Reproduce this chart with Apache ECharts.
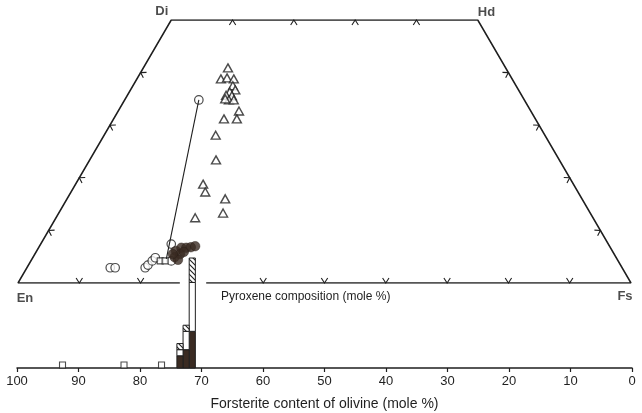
<!DOCTYPE html>
<html>
<head>
<meta charset="utf-8">
<script src="https://cdn.jsdelivr.net/npm/echarts@6/dist/echarts.min.js"></script>
<style>
  html, body { margin: 0; padding: 0; background: #ffffff; }
  #chart { width: 642px; height: 413px; }
</style>
</head>
<body>
<div id="chart"></div>
<script>
// ---------- DATA (pyroxene compositions as [Fs, Wo] mole %) ----------
const pyxTriangles = [
  [13.8, 40.9], [13.7, 38.8], [14.6, 39.0], [15.8, 38.8], [16.3, 37.5],
  [17.1, 36.7], [16.4, 36.3], [16.1, 35.7], [17.1, 35.6], [17.0, 34.8],
  [16.3, 35.0], [17.8, 34.8], [19.7, 32.7], [18.0, 31.2], [20.1, 31.2],
  [18.2, 28.1], [20.6, 23.4], [20.8, 18.8], [21.9, 17.3], [25.8, 16.0],
  [22.7, 12.4], [26.8, 13.3]
];
const pyxOpenCircles = [
  [12.1, 34.8], [13.6, 2.9], [14.4, 2.9], [19.3, 2.9], [19.5, 3.4],
  [19.8, 4.2], [20.0, 4.8], [21.3, 7.4], [22.9, 4.2]
];
const pyxOpenSquares = [[21.1, 4.2], [21.9, 4.2]];
const pyxFilledCircles = [
  [22.7, 6.1], [23.3, 6.7], [24.1, 6.7], [24.8, 6.8], [25.4, 7.0],
  [23.1, 4.9], [23.7, 5.5], [23.9, 4.4], [24.1, 5.9], [22.5, 5.5]
];
const tieLine = [[12.1, 34.8], [21.9, 4.6]];

// quadrilateral corners and tick marks
const cornerNames = ['En', 'Di', 'Hd', 'Fs'];
const cornerComps = [[0, 0], [0, 50], [50, 50], [100, 0]];
const baseTicksFs = [10, 20, 40, 50, 60, 70, 80, 90];
const topTicksFs = [10, 20, 30, 40];
const sideTicksWo = [10, 20, 30, 40];
const baseGap = [26.4, 30.7]; // Fs range where the base line is interrupted

// ---------- DATA (olivine, Fo mole %) ----------
const olivineBinLow = [71, 72, 73];
const olivineFilled = [6, 3, 2];
const olivineOpen = [8, 3, 1];
const olivineHatched = [4, 1, 1];
const olivineSingles = [92.6, 82.6, 76.5];
const olivineTicks = [100, 90, 80, 70, 60, 50, 40, 30, 20, 10, 0];

// ---------- helpers ----------
const toXY = (c) => [c[0] + c[1] / 2, c[1]];
const INK = '#1f1f1f';
const DARK = '#3a2b22';
const FONT = '"Liberation Sans", Arial, sans-serif';

function hatchPattern() {
  const c = document.createElement('canvas');
  c.width = 5; c.height = 5;
  const g = c.getContext('2d');
  g.fillStyle = '#ffffff'; g.fillRect(0, 0, 5, 5);
  g.strokeStyle = '#222'; g.lineWidth = 1.1;
  g.beginPath();
  g.moveTo(-1, -1); g.lineTo(6, 6);
  g.moveTo(-1, 4); g.lineTo(1, 6);
  g.moveTo(4, -1); g.lineTo(6, 1);
  g.stroke();
  return { image: c, repeat: 'repeat' };
}
const HATCH = hatchPattern();

// tick mark data: [x, y, edgeIndex]
const tickData = [];
baseTicksFs.forEach(f => tickData.push([f, 0, 0]));
topTicksFs.forEach(f => { const p = toXY([f, 50]); tickData.push([p[0], p[1], 1]); });
sideTicksWo.forEach(w => { const p = toXY([0, w]); tickData.push([p[0], p[1], 2]); });
sideTicksWo.forEach(w => { const p = toXY([100 - w, w]); tickData.push([p[0], p[1], 3]); });
const s3 = Math.sqrt(3) / 2;
const normals = [[0, 1], [0, -1], [-s3, -0.5], [s3, -0.5]];

// histogram rect data: [lo, hi, base, top, kind]
const histData = [];
olivineBinLow.forEach((lo, i) => {
  const f = olivineFilled[i], o = olivineOpen[i], h = olivineHatched[i];
  histData.push([lo, lo + 1, 0, f, 0]);
  histData.push([lo, lo + 1, f, f + o, 1]);
  histData.push([lo, lo + 1, f + o, f + o + h, 2]);
});

const outline = [
  toXY([baseGap[0], 0]), toXY(cornerComps[0]), toXY(cornerComps[1]),
  toXY(cornerComps[2]), toXY(cornerComps[3]), toXY([baseGap[1], 0])
];

const cornerLabel = {
  En: { position: 'bottom', offset: [7, 4] },
  Di: { position: 'left', offset: [2, -9] },
  Hd: { position: 'right', offset: [-5, -8] },
  Fs: { position: 'bottom', offset: [-6, 2] }
};

const chart = echarts.init(document.getElementById('chart'), null, { renderer: 'canvas' });
chart.setOption({
  animation: false,
  backgroundColor: '#ffffff',
  textStyle: { fontFamily: FONT },
  grid: [
    { left: 18, right: 11, top: 20, bottom: 130 },
    { left: 17, right: 10, top: 258, bottom: 45 }
  ],
  xAxis: [
    { gridIndex: 0, type: 'value', min: 0, max: 100, show: false },
    {
      gridIndex: 1, type: 'value', min: 0, max: 100, interval: 10, inverse: true,
      axisLine: { show: true, onZero: false, lineStyle: { color: INK, width: 1.5 } },
      axisTick: { show: true, length: 4, lineStyle: { color: INK, width: 1.2 } },
      axisLabel: { color: INK, fontSize: 13, margin: 7,
        formatter: v => olivineTicks.includes(v) ? String(v) : '' },
      splitLine: { show: false },
      name: 'Forsterite content of olivine (mole %)',
      nameLocation: 'middle', nameGap: 29,
      nameTextStyle: { color: INK, fontSize: 14 }
    }
  ],
  yAxis: [
    { gridIndex: 0, type: 'value', min: 0, max: 50, show: false },
    { gridIndex: 1, type: 'value', min: 0, max: 18, show: false }
  ],
  graphic: [
    { type: 'text', left: 221, top: 291,
      style: { text: 'Pyroxene composition (mole %)', fill: INK,
        font: '12px ' + FONT } }
  ],
  series: [
    {
      name: 'outline', type: 'line', xAxisIndex: 0, yAxisIndex: 0,
      data: outline, symbol: 'none', silent: true,
      lineStyle: { color: INK, width: 1.5 }
    },
    {
      name: 'tie', type: 'line', xAxisIndex: 0, yAxisIndex: 0,
      data: tieLine.map(toXY), symbol: 'none', silent: true,
      lineStyle: { color: INK, width: 1.1 }
    },
    {
      name: 'ticks', type: 'custom', xAxisIndex: 0, yAxisIndex: 0, silent: true,
      data: tickData,
      renderItem: (params, api) => {
        const p = api.coord([api.value(0), api.value(1)]);
        const n = normals[api.value(2)];
        const t = [-n[1], n[0]];
        const h = 5, w = 3.2;
        return {
          type: 'polyline',
          shape: { points: [
            [p[0] - n[0] * h + t[0] * w, p[1] - n[1] * h + t[1] * w],
            [p[0], p[1]],
            [p[0] - n[0] * h - t[0] * w, p[1] - n[1] * h - t[1] * w]
          ] },
          style: { stroke: INK, lineWidth: 1.1, fill: null }
        };
      }
    },
    {
      name: 'triangles', type: 'scatter', xAxisIndex: 0, yAxisIndex: 0,
      data: pyxTriangles.map(toXY), symbol: 'triangle', symbolSize: [9, 8],
      itemStyle: { color: '#ffffff', borderColor: INK, borderWidth: 1.4 }
    },
    {
      name: 'openCircles', type: 'scatter', xAxisIndex: 0, yAxisIndex: 0,
      data: pyxOpenCircles.map(toXY), symbol: 'circle', symbolSize: 8.5,
      itemStyle: { color: '#ffffff', borderColor: INK, borderWidth: 1.2 }
    },
    {
      name: 'openSquares', type: 'scatter', xAxisIndex: 0, yAxisIndex: 0,
      data: pyxOpenSquares.map(toXY), symbol: 'rect', symbolSize: 6,
      itemStyle: { color: '#ffffff', borderColor: INK, borderWidth: 1.2 }
    },
    {
      name: 'filledCircles', type: 'scatter', xAxisIndex: 0, yAxisIndex: 0,
      data: pyxFilledCircles.map(toXY), symbol: 'circle', symbolSize: 9.5,
      itemStyle: { color: DARK, borderColor: '#2a1f1a', borderWidth: 0.6 }
    },
    {
      name: 'corners', type: 'scatter', xAxisIndex: 0, yAxisIndex: 0, silent: true,
      symbolSize: 0,
      data: cornerNames.map((nm, i) => ({
        value: toXY(cornerComps[i]), name: nm,
        label: Object.assign({ show: true, formatter: nm, color: INK,
          fontSize: 13, fontWeight: 'bold' }, cornerLabel[nm])
      }))
    },
    {
      name: 'olivineHist', type: 'custom', xAxisIndex: 1, yAxisIndex: 1, silent: true,
      data: histData,
      renderItem: (params, api) => {
        const a = api.coord([api.value(0), api.value(2)]);
        const b = api.coord([api.value(1), api.value(3)]);
        const kind = api.value(4);
        const x = Math.min(a[0], b[0]), y = Math.min(a[1], b[1]);
        const fill = kind === 0 ? DARK : (kind === 1 ? '#ffffff' : HATCH);
        return {
          type: 'rect',
          shape: { x: x, y: y, width: Math.abs(b[0] - a[0]), height: Math.abs(b[1] - a[1]) },
          style: { fill: fill, stroke: INK, lineWidth: 1 }
        };
      }
    },
    {
      name: 'olivineSingles', type: 'scatter', xAxisIndex: 1, yAxisIndex: 1,
      data: olivineSingles.map(v => [v, 0.5]), symbol: 'rect', symbolSize: 6,
      itemStyle: { color: '#ffffff', borderColor: INK, borderWidth: 1.1 }
    }
  ]
});
</script>
</body>
</html>
